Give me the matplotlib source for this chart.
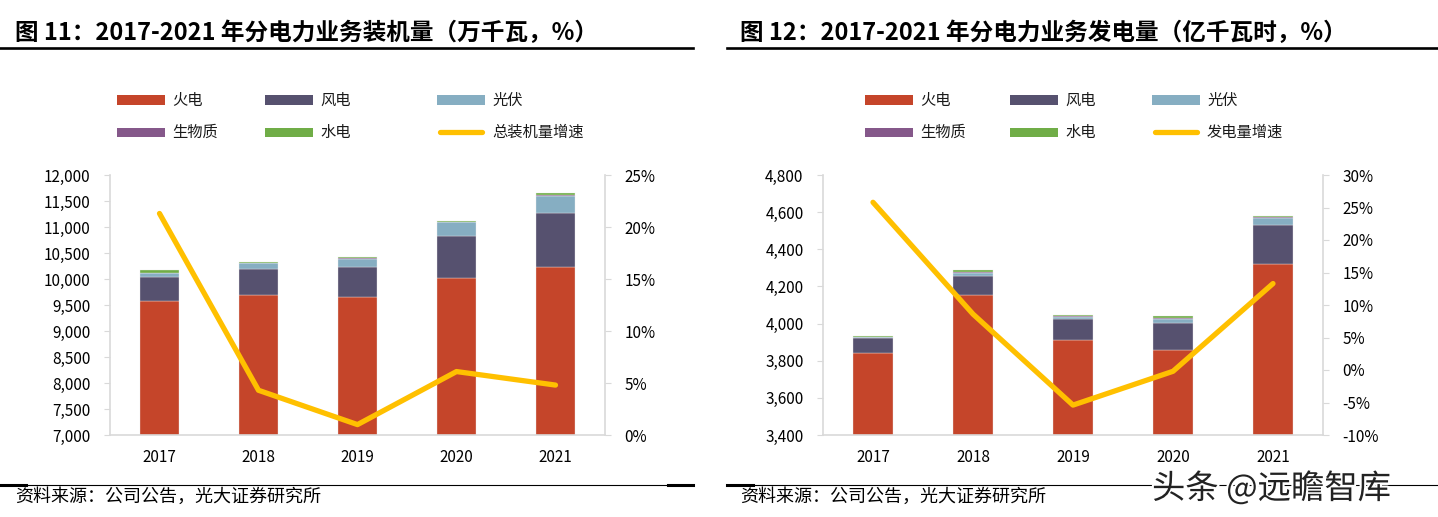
import matplotlib
matplotlib.use('Agg')
import matplotlib.pyplot as plt
from matplotlib.lines import Line2D
from matplotlib.patches import Rectangle
from matplotlib.ticker import FuncFormatter
import matplotlib.patheffects as pe

plt.rcParams['font.family'] = ['Noto Sans CJK SC', 'DejaVu Sans']

# 데이터
years = ['2017', '2018', '2019', '2020', '2021']

# 图11 装机量（万千瓦）
cap_fire = [9570, 9686, 9660, 10013, 10225]
cap_wind = [475, 506, 577, 820, 1050]
cap_solar = [70, 110, 142, 257, 327]
cap_bio = [10, 5, 20, 10, 12]
cap_hydro = [48, 20, 30, 20, 40]
cap_growth = [21.3, 4.3, 1.0, 6.1, 4.8]   # %

# 图12 发电量（亿千瓦时）
gen_fire = [3843, 4155, 3910, 3860, 4321]
gen_wind = [79, 100, 116, 145, 209]
gen_solar = [4, 18, 12, 22, 40]
gen_bio = [3, 3, 3, 3, 5]
gen_hydro = [6, 10, 7, 9, 5]
gen_growth = [25.8, 8.6, -5.4, -0.2, 13.3]  # %

series_names = ['火电', '风电', '光伏', '生物质', '水电']
colors = ['#C5452A', '#56516F', '#86AEC2', '#85588A', '#70AD47']
line_color = '#FFC000'
grid_gray = '#D9D9D9'

W, H = 1438, 517
fig = plt.figure(figsize=(W / 100, H / 100), dpi=100)


def px(x, y):
    # 픽셀 좌표 -> figure 좌표
    return x / W, 1 - y / H


def draw_panel(left_px, right_px, stacks, growth, ylim, yticks, g_lim, g_ticks, line_label,
               leg_x, title, title_x, line_x0, line_x1):
    l, b = px(left_px, 435)
    r, t = px(right_px, 175)
    ax = fig.add_axes([l, b, r - l, t - b])
    x = list(range(len(years)))
    bottom = [0] * len(years)
    for vals, c in zip(stacks, colors):
        ax.bar(x, vals, width=0.4, bottom=bottom, color=c, edgecolor='#EDEDED', linewidth=0.25,
               zorder=2)
        bottom = [a + v for a, v in zip(bottom, vals)]
    ax.set_ylim(*ylim)
    ax.set_yticks(yticks)
    ax.yaxis.set_major_formatter(FuncFormatter(lambda v, p: f'{int(v):,}'))
    ax.set_xlim(-0.5, len(years) - 0.5)
    ax.set_xticks(x)
    ax.set_xticklabels(years)
    ax.tick_params(axis='x', length=0, pad=10, labelsize=11)
    ax.tick_params(axis='y', direction='out', length=4, color=grid_gray, labelsize=11, pad=10)
    for s in ['top', 'right']:
        ax.spines[s].set_visible(False)
    for s in ['left', 'bottom']:
        ax.spines[s].set_color(grid_gray)
        ax.spines[s].set_linewidth(1.2)

    ax2 = ax.twinx()
    ax2.plot(x, growth, color=line_color, linewidth=3.8, solid_capstyle='round',
             solid_joinstyle='round', zorder=3)
    ax2.set_ylim(*g_lim)
    ax2.set_yticks(g_ticks)
    ax2.yaxis.set_major_formatter(FuncFormatter(lambda v, p: f'{int(round(v))}%'))
    ax2.tick_params(axis='y', direction='out', length=4, color=grid_gray, labelsize=11, pad=10)
    for s in ['top', 'left', 'bottom']:
        ax2.spines[s].set_visible(False)
    ax2.spines['right'].set_color(grid_gray)
    ax2.spines['right'].set_linewidth(1.2)

    # 범례 (3열 2행)
    names = series_names + [line_label]
    rows = [100, 132]
    for i, name in enumerate(names):
        cx = leg_x[i % 3]
        cy = rows[i // 3]
        if i < 5:
            x0, y0 = px(cx, cy + 4.5)
            fig.add_artist(Rectangle((x0, y0), 48 / W, 9 / H, transform=fig.transFigure,
                                     facecolor=colors[i], edgecolor='none'))
        else:
            xa, ya = px(cx + 3, cy)
            xb, _ = px(cx + 45, cy)
            fig.add_artist(Line2D([xa, xb], [ya, ya], transform=fig.transFigure,
                                  color=line_color, linewidth=3.8, solid_capstyle='round'))
        tx, ty = px(cx + 55, cy)
        fig.text(tx, ty, name, fontsize=11, va='center', ha='left', color='#1a1a1a')

    # 제목과 구분선
    tx, ty = px(title_x, 33)
    fig.text(tx, ty, title, fontsize=17, fontweight='bold', va='center', ha='left', color='black')
    xa, ya = px(line_x0, 48)
    xb, _ = px(line_x1, 48)
    fig.add_artist(Line2D([xa, xb], [ya, ya], transform=fig.transFigure, color='black',
                          linewidth=1.9))
    xa, ya = px(line_x0, 485)
    xb, _ = px(line_x1, 485)
    fig.add_artist(Line2D([xa, xb], [ya, ya], transform=fig.transFigure, color='black',
                          linewidth=0.8))
    xc, _ = px(line_x0 + 26, 485)
    fig.add_artist(Line2D([xa, xc], [ya, ya], transform=fig.transFigure, color='black',
                          linewidth=2.2))
    tx, ty = px(title_x, 497)
    fig.text(tx, ty, '资料来源：公司公告，光大证券研究所', fontsize=13, va='center', ha='left',
             color='black')
    return ax, ax2


draw_panel(110, 605, [cap_fire, cap_wind, cap_solar, cap_bio, cap_hydro], cap_growth,
           (7000, 12000), list(range(7000, 12001, 500)), (0, 25), list(range(0, 26, 5)),
           '总装机量增速', [117, 265, 437],
           '图 11：2017-2021 年分电力业务装机量（万千瓦，%）', 15, 0, 693)

draw_panel(823, 1323, [gen_fire, gen_wind, gen_solar, gen_bio, gen_hydro], gen_growth,
           (3400, 4800), list(range(3400, 4801, 200)), (-10, 30), list(range(-10, 31, 5)),
           '发电量增速', [865, 1010, 1152],
           '图 12：2017-2021 年分电力业务发电量（亿千瓦时，%）', 740, 727, 1438)

# 왼쪽 아래 구분선 오른쪽 끝 굵은 부분
xa, ya = px(668, 485)
xb, _ = px(693, 485)
fig.add_artist(Line2D([xa, xb], [ya, ya], transform=fig.transFigure, color='black', linewidth=2.2))

# 워터마크
wx, wy = px(1152, 489)
fig.text(wx, wy, '头条 @远瞻智库', fontsize=24, fontweight='medium', va='center', ha='left',
         color='#222222', path_effects=[pe.withStroke(linewidth=3, foreground='white')])

fig.savefig('out.png', dpi=100)
